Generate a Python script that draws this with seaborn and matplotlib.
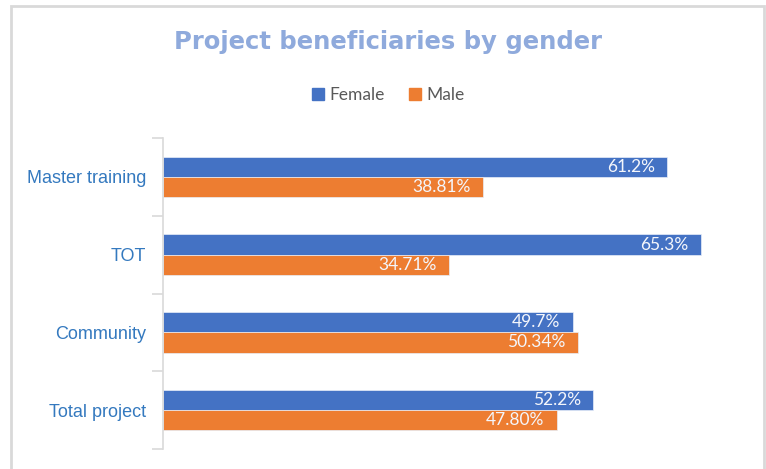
import numpy as np
import pandas as pd
import seaborn as sns
import matplotlib.pyplot as plt
from matplotlib.patches import Rectangle

# data
categories = ['Master training', 'TOT', 'Community', 'Total project']
female = [61.2, 65.3, 49.7, 52.2]
male = [38.81, 34.71, 50.34, 47.80]

blue = '#4472C4'
orange = '#ED7D31'

df = pd.DataFrame({
    'category': categories * 2,
    'gender': ['Female'] * len(categories) + ['Male'] * len(categories),
    'value': female + male,
})

sns.set_style('white')
plt.rcParams['font.family'] = ['Lato', 'DejaVu Sans']

fig = plt.figure(figsize=(7.66, 4.69), dpi=100)
ax = fig.add_axes([163 / 766, 1 - 449 / 469, (740 - 163) / 766, (449 - 138) / 469])

sns.barplot(data=df, y='category', x='value', hue='gender', orient='h',
            palette=[blue, orange], saturation=1, width=0.52, order=categories,
            hue_order=['Female', 'Male'], edgecolor='#E8EEF8', linewidth=0.5,
            legend=False, ax=ax)

# value labels inside the bar ends
fmt = {0: '{:.1f}%', 1: '{:.2f}%'}
for i, cont in enumerate(ax.containers):
    texts = ax.bar_label(cont, labels=[fmt[i].format(v) for v in cont.datavalues],
                         padding=-9, color='#F4F6FB', fontsize=12.5)
    for t in texts:
        t.set_ha('right')

ax.set_xlim(0, 70)
ax.set_ylim(3.5, -0.5)
ax.set_xlabel('')
ax.set_ylabel('')
ax.set_xticks([])

# category labels, ticks at the boundaries
ax.set_yticks(range(len(categories)))
ax.set_yticklabels(categories, fontsize=13, color='#3479BF', family='Liberation Sans')
ax.tick_params(axis='y', which='major', left=False, length=0, pad=12)
ax.set_yticks(np.arange(-0.5, len(categories), 1), minor=True)
ax.tick_params(axis='y', which='minor', left=True, length=8, width=1.2,
               color='#D9D9D9', direction='out')

for s in ['top', 'right', 'bottom']:
    ax.spines[s].set_visible(False)
ax.spines['left'].set_color('#D9D9D9')
ax.spines['left'].set_linewidth(1.2)

# legend
handles = [Rectangle((0, 0), 1, 1, color=blue), Rectangle((0, 0), 1, 1, color=orange)]
fig.legend(handles, ['Female', 'Male'], loc='center', bbox_to_anchor=(388 / 766, 1 - 95 / 469),
           ncol=2, frameon=False, fontsize=12.5, labelcolor='#595959',
           handlelength=0.7, handleheight=0.7, handletextpad=0.3, columnspacing=1.4)

fig.text(388 / 766, 1 - 42 / 469, 'Project beneficiaries by gender', ha='center', va='center',
         fontsize=17.5, fontweight='bold', color='#8FAADC', family='DejaVu Sans')

# chart border
fig.add_artist(Rectangle((11 / 766, -0.05), (764 - 11) / 766, 1.05 - 6 / 469,
                         transform=fig.transFigure, fill=False, edgecolor='#D9D9D9', linewidth=2))

fig.savefig('out.png', dpi=100)
